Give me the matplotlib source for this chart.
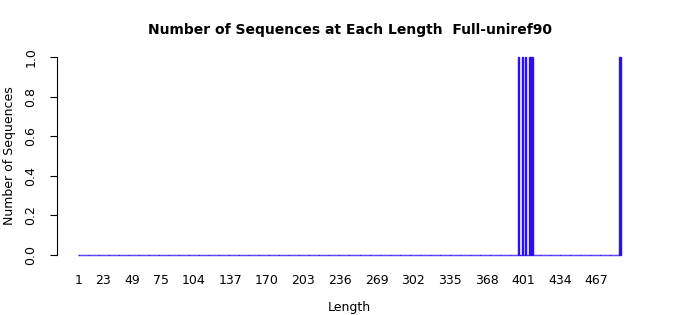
import numpy as np
import matplotlib
matplotlib.use("Agg")
import matplotlib.pyplot as plt

# sequence lengths observed (one sequence each), levels run 1..max_length
max_length = 488
seq_lengths = [397, 400, 403, 407, 409, 488]
tick_values = [1, 23, 49, 75, 104, 137, 170, 203, 236, 269, 302, 335, 368, 401, 434, 467]

lengths = np.arange(1, max_length + 1)
counts = np.bincount(seq_lengths, minlength=max_length + 1)[1:]

fig = plt.figure(figsize=(7.0, 3.15), dpi=100)
ax = fig.add_axes([57 / 700, 52 / 315, 585 / 700, 214 / 315])

bar_col = "#2a0cff"
ax.bar(lengths, counts, width=1.0, color=bar_col, edgecolor=bar_col, linewidth=1.0)

ax.set_xlim(-18.8, 507.8)
ax.set_ylim(-0.04, 1.04)

for s in ["top", "right", "bottom"]:
    ax.spines[s].set_visible(False)
ax.spines["left"].set_bounds(0, 1)
ax.spines["left"].set_linewidth(0.8)

ax.set_yticks([0.0, 0.2, 0.4, 0.6, 0.8, 1.0])
ax.set_yticklabels(["0.0", "0.2", "0.4", "0.6", "0.8", "1.0"], rotation=90, va="center")
ax.tick_params(axis="y", length=5, width=0.8, pad=9, labelsize=9)
ax.set_xticks(tick_values)
ax.set_xticklabels([str(v) for v in tick_values])
ax.tick_params(axis="x", length=0, pad=8, labelsize=9)

ax.set_xlabel("Length", fontsize=9, labelpad=10)
ax.set_ylabel("Number of Sequences", fontsize=9, labelpad=6)
ax.set_title("Number of Sequences at Each Length  Full-uniref90",
             fontsize=10, fontweight="bold", pad=11)

fig.savefig("out.png", dpi=100)
